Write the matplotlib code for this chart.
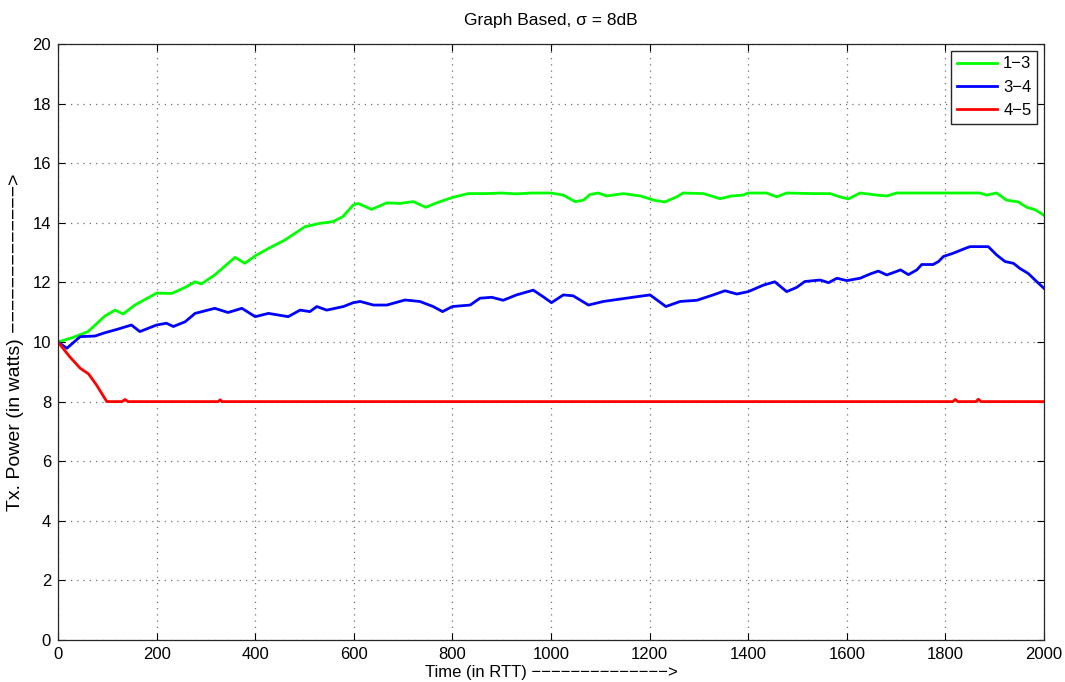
import matplotlib
matplotlib.use("Agg")
import matplotlib.pyplot as plt
import numpy as np

plt.rcParams['font.family'] = ['Liberation Sans', 'DejaVu Sans']

# adatok (leolvasva a kepbol)
x_13 = [0, 30, 61, 95, 116, 132, 156, 200, 231, 260, 278, 291, 318, 359, 379, 400, 427, 460,
        501, 531, 558, 578, 599, 609, 636, 667, 693, 721, 746, 768, 800, 832, 869, 900, 930,
        960, 1000, 1025, 1049, 1066, 1079, 1096, 1113, 1147, 1181, 1211, 1231, 1255, 1268,
        1309, 1343, 1366, 1390, 1400, 1437, 1458, 1478, 1532, 1566, 1586, 1603, 1627, 1661,
        1681, 1701, 1750, 1800, 1870, 1884, 1904, 1924, 1948, 1965, 1982, 2000]
y_13 = [10.0, 10.15, 10.35, 10.87, 11.07, 10.94, 11.24, 11.64, 11.63, 11.85, 12.02, 11.95, 12.25,
        12.84, 12.64, 12.89, 13.14, 13.42, 13.87, 13.98, 14.04, 14.21, 14.6, 14.65, 14.45, 14.67,
        14.65, 14.71, 14.52, 14.67, 14.85, 14.98, 14.98, 15.0, 14.97, 15.0, 15.0, 14.93, 14.71,
        14.76, 14.95, 15.0, 14.9, 14.98, 14.9, 14.75, 14.7, 14.87, 15.0, 14.98, 14.81, 14.9,
        14.93, 15.0, 15.0, 14.87, 15.0, 14.98, 14.98, 14.87, 14.8, 15.0, 14.93, 14.9, 15.0,
        15.0, 15.0, 15.0, 14.93, 15.0, 14.76, 14.7, 14.52, 14.44, 14.25]

x_34 = [0, 18, 45, 75, 95, 119, 149, 166, 200, 220, 234, 258, 278, 318, 345, 373, 400, 427, 467,
        491, 511, 525, 545, 579, 599, 613, 640, 667, 704, 734, 761, 780, 800, 836, 856, 880, 903,
        930, 964, 984, 1001, 1025, 1045, 1076, 1106, 1140, 1174, 1201, 1233, 1262, 1296, 1329,
        1353, 1377, 1400, 1431, 1454, 1478, 1498, 1515, 1546, 1563, 1580, 1600, 1627, 1647,
        1664, 1681, 1698, 1709, 1725, 1742, 1752, 1775, 1786, 1796, 1816, 1840, 1850, 1870,
        1887, 1904, 1921, 1938, 1951, 1968, 1985, 2000]
y_34 = [10.0, 9.79, 10.18, 10.2, 10.31, 10.42, 10.57, 10.35, 10.57, 10.63, 10.52, 10.68, 10.96,
        11.13, 10.99, 11.13, 10.85, 10.96, 10.85, 11.07, 11.02, 11.19, 11.07, 11.19, 11.32, 11.36,
        11.24, 11.24, 11.41, 11.36, 11.19, 11.02, 11.19, 11.24, 11.47, 11.5, 11.4, 11.58, 11.74,
        11.52, 11.32, 11.58, 11.55, 11.24, 11.36, 11.44, 11.52, 11.58, 11.19, 11.36, 11.4, 11.58,
        11.72, 11.61, 11.69, 11.91, 12.02, 11.69, 11.83, 12.03, 12.08, 11.99, 12.14, 12.06,
        12.14, 12.28, 12.38, 12.25, 12.35, 12.42, 12.26, 12.42, 12.6, 12.6, 12.7, 12.87, 12.98,
        13.14, 13.2, 13.2, 13.2, 12.92, 12.7, 12.64, 12.47, 12.3, 12.03, 11.8]

x_45 = [0, 24, 45, 62, 78, 99, 130, 136, 142, 325, 329, 333, 1815, 1820, 1825, 1862, 1867, 1872, 2000]
y_45 = [10.0, 9.5, 9.12, 8.93, 8.56, 8.0, 8.0, 8.07, 8.0, 8.0, 8.06, 8.0, 8.0, 8.07, 8.0, 8.0, 8.08, 8.0, 8.0]

labels = ['1\u22123', '3\u22124', '4\u22125']
colors = ['#00ff00', '#0000ff', '#ff0000']

fig = plt.figure(figsize=(10.65, 6.82), dpi=100)
ax = fig.add_axes([58 / 1065, 42 / 682, 986 / 1065, 596 / 682])

ax.plot(x_13, y_13, color=colors[0], lw=2, label=labels[0])
ax.plot(x_34, y_34, color=colors[1], lw=2, label=labels[1])
ax.plot(x_45, y_45, color=colors[2], lw=2, label=labels[2])

ax.set_xlim(0, 2000)
ax.set_ylim(0, 20)
ax.set_xticks(np.arange(0, 2001, 200))
ax.set_yticks(np.arange(0, 21, 2))
ax.tick_params(direction='in', length=5, width=0.8, top=True, right=True, labelsize=12, pad=5)
ax.grid(True, color='0.45', linestyle=(0, (1, 4)), linewidth=0.9)
for s in ax.spines.values():
    s.set_linewidth(0.9)
    s.set_color('0.15')

ax.set_title('Graph Based, \u03c3 = 8dB', fontsize=12.5, pad=14)
ax.set_xlabel('Time (in RTT) ' + '\u2212' * 14 + '>', fontsize=12, labelpad=2)
ax.set_ylabel('Tx. Power (in watts) ' + '\u2212' * 13 + '>', fontsize=14, labelpad=6)

leg = ax.legend(loc='upper right', fontsize=12, fancybox=False, framealpha=1,
                edgecolor='0.15', handlelength=2.4, handletextpad=0.4,
                labelspacing=0.5, borderaxespad=0.4, borderpad=0.35)
leg.get_frame().set_linewidth(1.0)

fig.savefig('out.png', dpi=100)
